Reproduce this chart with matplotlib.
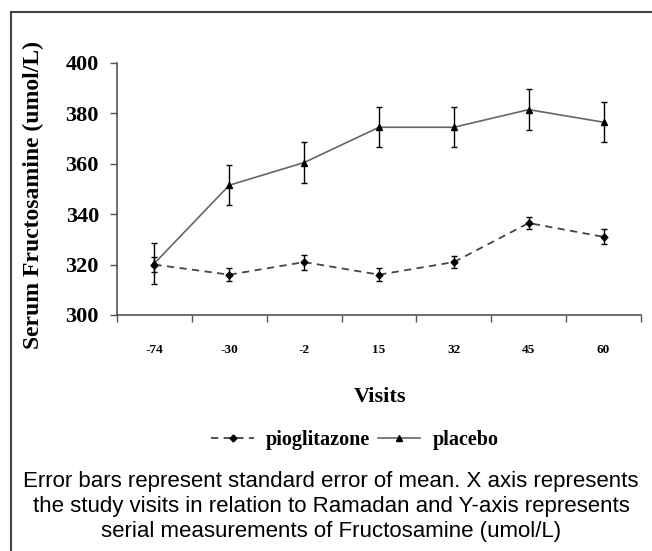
import matplotlib
matplotlib.use("Agg")
import matplotlib.pyplot as plt
from matplotlib.lines import Line2D

# data
visits = ["-74", "-30", "-2", "15", "32", "45", "60"]
pioglitazone = [320, 316, 321, 316, 321, 336.5, 331]
pioglitazone_se = [3, 2.5, 3, 2.5, 2.5, 2.5, 3]
placebo = [320.5, 351.5, 360.5, 374.5, 374.5, 381.5, 376.5]
placebo_se = [8, 8, 8, 8, 8, 8, 8]

serif = "Liberation Serif"
plt.rcParams["font.family"] = serif

fig = plt.figure(figsize=(6.52, 5.51), dpi=100)
ax = fig.add_axes([117 / 652, 1 - 315 / 551, (641 - 117) / 652, (315 - 63) / 551])

x = list(range(len(visits)))
ax.errorbar(x, pioglitazone, yerr=pioglitazone_se, color="#444444", lw=1.3,
            ls=(0, (4, 3)), marker="D", ms=3.5, mfc="black", mec="black",
            ecolor="black", elinewidth=1, capsize=2.5, capthick=1,
            label="pioglitazone")
ax.errorbar(x, placebo, yerr=placebo_se, color="#666666", lw=1.2,
            ls="-", marker="^", ms=4, mfc="black", mec="black",
            ecolor="black", elinewidth=1, capsize=2.5, capthick=1,
            label="placebo")

ax.set_xlim(-0.5, len(visits) - 0.5)
ax.set_ylim(300, 400)
ax.set_yticks(range(300, 401, 20))
ax.set_xticks([i - 0.5 for i in range(len(visits) + 1)])
ax.set_xticklabels([])
ax.set_xticks(x, minor=True)
ax.set_xticklabels(visits, minor=True, fontsize=9.5, fontweight="bold")
ax.tick_params(axis="x", which="minor", length=0, pad=21)
ax.tick_params(axis="x", which="major", length=5, width=1, color="#555555")
ax.tick_params(axis="y", length=5, width=1, color="#555555", pad=8,
               labelsize=16)
for t in ax.get_yticklabels():
    t.set_fontweight("bold")
for s in ["top", "right"]:
    ax.spines[s].set_visible(False)
for s in ["left", "bottom"]:
    ax.spines[s].set_color("#555555")
    ax.spines[s].set_linewidth(1.2)

fig.text(33 / 652, 1 - 195 / 551, "Serum Fructosamine (umol/L)", rotation=90,
         ha="center", va="center", fontsize=17, fontweight="bold")
fig.text(380 / 652, 1 - 397 / 551, "Visits", ha="center", va="center",
         fontsize=16, fontweight="bold")

handles, labels = ax.get_legend_handles_labels()
handles = [h[0] for h in handles]
fig.legend(handles, labels, loc="center", bbox_to_anchor=(355 / 652, 1 - 440 / 551),
           ncol=2, frameon=False, handlelength=2.1, handletextpad=0.6,
           columnspacing=0.4, prop={"family": serif, "weight": "bold", "size": 14.5})

caption = ["Error bars represent standard error of mean. X axis represents",
           "the study visits in relation to Ramadan and Y-axis represents",
           "serial measurements of Fructosamine (umol/L)"]
for i, line in enumerate(caption):
    fig.text(331 / 652, 1 - (481 + 25.5 * i) / 551, line, ha="center", va="center",
             fontsize=16, family="Liberation Sans")

# outer frame (cut off at right and bottom)
fig.add_artist(Line2D([11 / 652, 1], [1 - 12 / 551, 1 - 12 / 551],
                      transform=fig.transFigure, color="#444444", lw=1.5))
fig.add_artist(Line2D([11 / 652, 11 / 652], [0, 1 - 12 / 551],
                      transform=fig.transFigure, color="#444444", lw=1.5))

fig.savefig("out.png", dpi=100)
